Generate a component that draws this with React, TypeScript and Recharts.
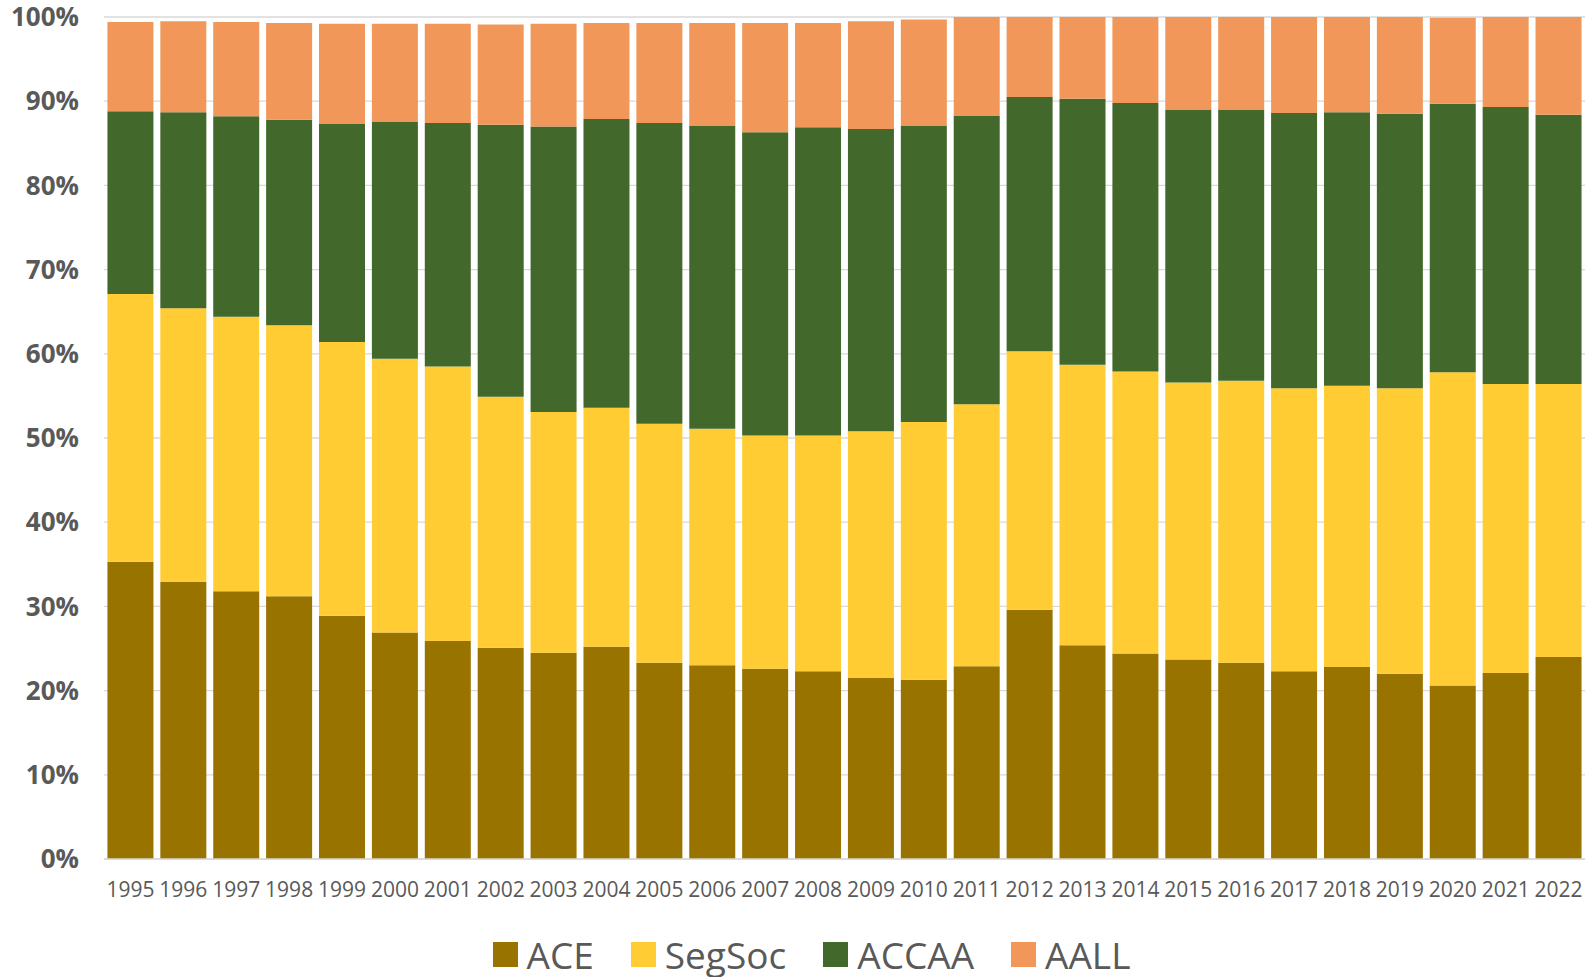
import { BarChart, Bar, XAxis, YAxis, CartesianGrid, Legend } from "recharts";

// share of each administration, % of total
const years = [
  "1995", "1996", "1997", "1998", "1999", "2000", "2001", "2002", "2003", "2004",
  "2005", "2006", "2007", "2008", "2009", "2010", "2011", "2012", "2013", "2014",
  "2015", "2016", "2017", "2018", "2019", "2020", "2021", "2022",
];
const ace = [
  35.3, 32.9, 31.8, 31.2, 28.9, 26.9, 25.9, 25.1, 24.5, 25.2,
  23.3, 23.0, 22.6, 22.3, 21.5, 21.3, 22.9, 29.6, 25.4, 24.4,
  23.7, 23.3, 22.3, 22.8, 22.0, 20.6, 22.1, 24.0,
];
const segSoc = [
  31.8, 32.5, 32.6, 32.2, 32.5, 32.5, 32.6, 29.8, 28.6, 28.4,
  28.4, 28.1, 27.7, 28.0, 29.3, 30.6, 31.1, 30.7, 33.3, 33.5,
  32.9, 33.5, 33.6, 33.4, 33.9, 37.2, 34.3, 32.4,
];
const accaa = [
  21.7, 23.3, 23.8, 24.4, 25.9, 28.2, 28.9, 32.3, 33.9, 34.3,
  35.7, 36.0, 36.0, 36.6, 35.9, 35.2, 34.3, 30.2, 31.6, 31.9,
  32.4, 32.2, 32.7, 32.5, 32.6, 31.9, 32.9, 32.0,
];
const aall = [
  10.6, 10.8, 11.2, 11.5, 11.9, 11.6, 11.8, 11.9, 12.2, 11.4,
  11.9, 12.2, 13.0, 12.4, 12.8, 12.6, 11.7, 9.5, 9.7, 10.2,
  11.0, 11.0, 11.4, 11.3, 11.5, 10.2, 10.7, 11.6,
];
const yTicks = [0, 10, 20, 30, 40, 50, 60, 70, 80, 90, 100];

const series = [
  { key: "ACE", color: "#997300" },
  { key: "SegSoc", color: "#FFCD33" },
  { key: "ACCAA", color: "#43682B" },
  { key: "AALL", color: "#F1975A" },
];

const data = years.map((year, i) => ({
  year,
  ACE: ace[i],
  SegSoc: segSoc[i],
  ACCAA: accaa[i],
  AALL: aall[i],
}));

const FONT = "'Open Sans', sans-serif";

function LegendBox() {
  return (
    <div
      style={{
        display: "flex",
        justifyContent: "center",
        alignItems: "center",
        gap: 37,
        height: 46,
        marginTop: 12,
        paddingLeft: 38,
        fontFamily: FONT,
        fontSize: 37,
        color: "#595959",
      }}
    >
      {series.map((s) => (
        <div key={s.key} style={{ display: "flex", alignItems: "center" }}>
          <span style={{ width: 25, height: 25, background: s.color, marginRight: 9, display: "inline-block" }} />
          <span>{s.key}</span>
        </div>
      ))}
    </div>
  );
}

export default function App() {
  return (
    <div style={{ position: "absolute", left: 0, top: 0, background: "#fff" }}>
      <BarChart
        width={1591}
        height={977}
        data={data}
        margin={{ top: 17, right: 6, left: 0, bottom: 0 }}
        barCategoryGap="6.5%"
      >
        <CartesianGrid vertical={false} stroke="#d9d9d9" strokeWidth={1.3} />
        <XAxis
          dataKey="year"
          height={60}
          tickLine={false}
          tickSize={0}
          tickMargin={23}
          interval={0}
          axisLine={{ stroke: "#d9d9d9", strokeWidth: 1.5 }}
          tick={{ fill: "#595959", fontSize: 21, fontFamily: FONT }}
        />
        <YAxis
          width={104}
          domain={[0, 100]}
          ticks={yTicks}
          allowDataOverflow
          axisLine={false}
          tickLine={false}
          tickSize={0}
          tickMargin={25}
          tickFormatter={(v) => `${v}%`}
          tick={{ fill: "#595959", fontSize: 26, fontWeight: 700, fontFamily: FONT }}
        />
        <Legend verticalAlign="bottom" height={58} content={() => <LegendBox />} />
        {series.map((s) => (
          <Bar key={s.key} dataKey={s.key} stackId="a" fill={s.color} isAnimationActive={false} />
        ))}
      </BarChart>
    </div>
  );
}
